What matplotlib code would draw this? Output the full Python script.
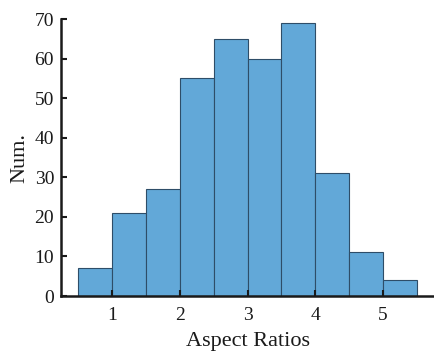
import numpy as np
import matplotlib.pyplot as plt

plt.rcParams['font.family'] = ['Liberation Serif', 'DejaVu Serif']

bin_edges = [0.5, 1.0, 1.5, 2.0, 2.5, 3.0, 3.5, 4.0, 4.5, 5.0, 5.5]
counts = [7, 21, 27, 55, 65, 60, 69, 31, 11, 4]

fig = plt.figure(figsize=(4.34, 3.52), dpi=100)
ax = fig.add_axes([0.1406, 0.159, 0.8594, 0.787])

ax.hist(bin_edges[:-1], bins=bin_edges, weights=counts,
        color='#62a8d8', edgecolor='#2e4d68', linewidth=0.8)

ax.set_xlim(0.25, 5.75)
ax.set_ylim(0, 70)
ax.set_xticks([1, 2, 3, 4, 5])
ax.set_yticks(np.arange(0, 71, 10))

for s in ['top', 'right']:
    ax.spines[s].set_visible(False)
for s in ['left', 'bottom']:
    ax.spines[s].set_linewidth(1.8)
    ax.spines[s].set_color('#1a1a1a')

ax.tick_params(direction='in', length=4, width=1.5, labelsize=14, colors='#1a1a1a', pad=5)
ax.tick_params(axis='x', pad=8)
ax.set_xlabel('Aspect Ratios', fontsize=16, color='#1a1a1a', labelpad=6)
ax.set_ylabel('Num.', fontsize=16, color='#1a1a1a', labelpad=4)

fig.savefig('out.png', dpi=100)
